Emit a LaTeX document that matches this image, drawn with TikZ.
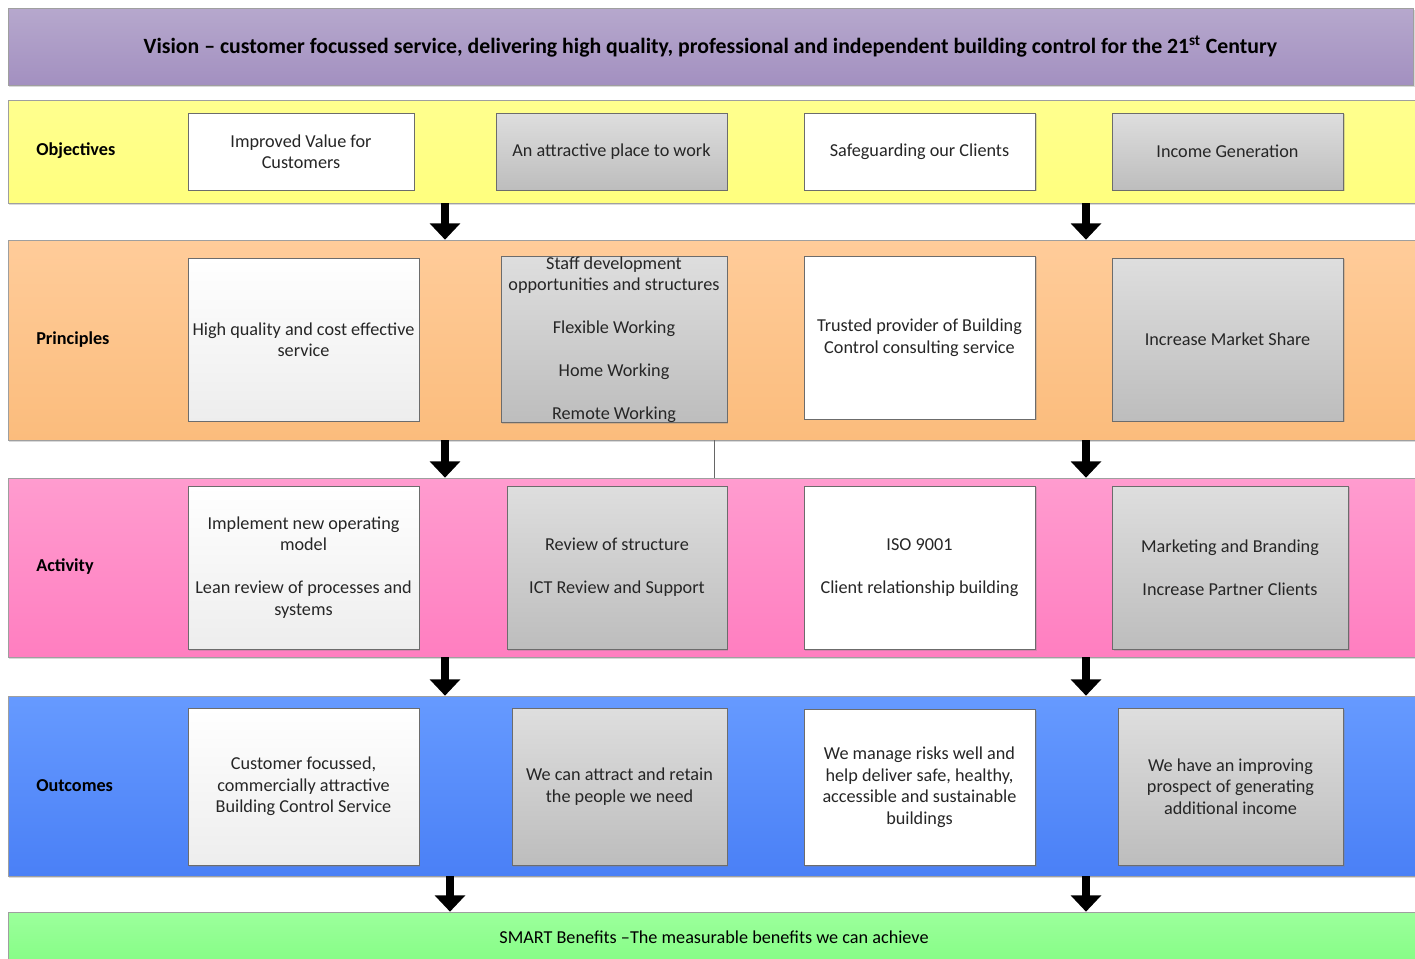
\documentclass[tikz,border=0pt]{standalone}
\usepackage{fontspec}
\setmainfont{Carlito}
\usetikzlibrary{positioning,shadows,arrows.meta}

\definecolor{visA}{HTML}{B6A8CD}
\definecolor{visB}{HTML}{A390C0}
\definecolor{yelA}{HTML}{FFFF8E}
\definecolor{yelB}{HTML}{FFFF7E}
\definecolor{orgA}{HTML}{FFCC9A}
\definecolor{orgB}{HTML}{FBBC7C}
\definecolor{pnkA}{HTML}{FF9CCF}
\definecolor{pnkB}{HTML}{FF7EC0}
\definecolor{bluA}{HTML}{669AFF}
\definecolor{bluB}{HTML}{4A80F6}
\definecolor{grnA}{HTML}{9CFF9C}
\definecolor{grnB}{HTML}{86FD86}
\definecolor{boxA}{HTML}{DEDEDE}
\definecolor{boxB}{HTML}{BDBDBD}

\begin{document}
\begin{tikzpicture}[x=0.67pt, y=-0.67pt,
  sz/.style 2 args={minimum width=#1*0.67pt, minimum height=#2*0.67pt},
  band/.style={draw=gray!75, inner sep=0pt, drop shadow={shadow xshift=1pt, shadow yshift=-1.5pt, opacity=0.3}},
  box/.style={draw=gray!85!black, inner sep=0pt, align=center, text=black!85, font=\fontsize{12.2pt}{14.4pt}\selectfont, drop shadow={shadow xshift=1pt, shadow yshift=-1pt, opacity=0.3}},
  greybox/.style={box, top color=boxA, bottom color=boxB},
  softbox/.style={box, top color=white, bottom color=white!93!black},
  plainbox/.style={box, fill=white},
  lbl/.style={anchor=west, inner sep=0pt, font=\bfseries\fontsize{12.2pt}{14pt}\selectfont},
  arr/.style={line width=4.8pt, -{Triangle[width=20pt,length=11pt]}}]
\useasboundingbox (0,0) rectangle (1415,959);

% bands
\node[band, top color=visA, bottom color=visB, sz={1405}{77}, font=\bfseries\fontsize{14.6pt}{17pt}\selectfont] (vision) at (710.5,46.5) {Vision -- customer focussed service, delivering high quality, professional and independent building control for the 21\textsuperscript{st} Century};
\node[band, top color=yelA, bottom color=yelB, sz={1412}{103}] (obj) at (714,151.5) {};
\node[band, top color=orgA, bottom color=orgB, sz={1412}{200}] (pri) at (714,340) {};
\node[band, top color=pnkA, bottom color=pnkB, sz={1412}{179}] (act) at (714,567.5) {};
\node[band, top color=bluA, bottom color=bluB, sz={1412}{180}] (out) at (714,786) {};
\node[band, top color=grnA, bottom color=grnB, sz={1412}{50}, font=\fontsize{12.2pt}{14pt}\selectfont] (smart) at (714,937) {SMART Benefits --The measurable benefits we can achieve};

% row labels
\node[lbl] (objl) at (36,151) {Objectives};
\node[lbl] (pril) at (36,340) {Principles};
\node[lbl] (actl) at (36,567) {Activity};
\node[lbl] (outl) at (36,786) {Outcomes};

% objectives
\node[plainbox, sz={226}{77}] (ob1) at (301,151.5) {Improved Value for\\Customers};
\node[greybox, sz={231}{77}] (ob2) at (611.5,151.5) {An attractive place to work};
\node[plainbox, sz={231}{77}] (ob3) at (919.5,151.5) {Safeguarding our Clients};
\node[greybox, sz={231}{77}] (ob4) at (1227.5,151.5) {Income Generation};

% principles
\node[softbox, sz={231}{163}] (pr1) at (303.5,339.5) {High quality and cost effective\\service};
\node[greybox, sz={226}{163}] (pr2) at (614,339.5) {Staff development\\opportunities and structures\\[14.4pt]Flexible Working\\[14.4pt]Home Working\\[14.4pt]Remote Working};
\node[plainbox, sz={231}{163}] (pr3) at (919.5,337.5) {Trusted provider of Building\\Control consulting service};
\node[greybox, sz={231}{163}] (pr4) at (1227.5,339.5) {Increase Market Share};

% activity
\node[softbox, sz={231}{163}] (ac1) at (303.5,567.5) {Implement new operating\\model\\[14.4pt]Lean review of processes and\\systems};
\node[greybox, sz={220}{163}] (ac2) at (617,567.5) {Review of structure\\[14.4pt]ICT Review and Support};
\node[plainbox, sz={231}{163}] (ac3) at (919.5,567.5) {ISO 9001\\[14.4pt]Client relationship building};
\node[greybox, sz={236}{163}] (ac4) at (1230,567.5) {Marketing and Branding\\[14.4pt]Increase Partner Clients};

% outcomes
\node[softbox, sz={231}{157}] (ou1) at (303.5,786.5) {Customer focussed,\\commercially attractive\\Building Control Service};
\node[greybox, sz={215}{157}] (ou2) at (619.5,786.5) {We can attract and retain\\the people we need};
\node[plainbox, sz={231}{156}] (ou3) at (919.5,787) {We manage risks well and\\help deliver safe, healthy,\\accessible and sustainable\\buildings};
\node[greybox, sz={225}{157}] (ou4) at (1230.5,786.5) {We have an improving\\prospect of generating\\additional income};

% arrows
\coordinate (cl) at (445,0);
\coordinate (cb) at (450,0);
\coordinate (cr) at (1086,0);
\coordinate (cm) at (714,0);
\draw[arr] (obj.south -| cl) -- (pri.north -| cl);
\draw[arr] (obj.south -| cr) -- (pri.north -| cr);
\draw[arr] (pri.south -| cl) -- (act.north -| cl);
\draw[arr] (pri.south -| cr) -- (act.north -| cr);
\draw[arr] (act.south -| cl) -- (out.north -| cl);
\draw[arr] (act.south -| cr) -- (out.north -| cr);
\draw[arr] (out.south -| cb) -- (smart.north -| cb);
\draw[arr] (out.south -| cr) -- (smart.north -| cr);
\draw[gray!80!black, thin] (pri.south -| cm) -- (act.north -| cm);
\end{tikzpicture}
\end{document}
